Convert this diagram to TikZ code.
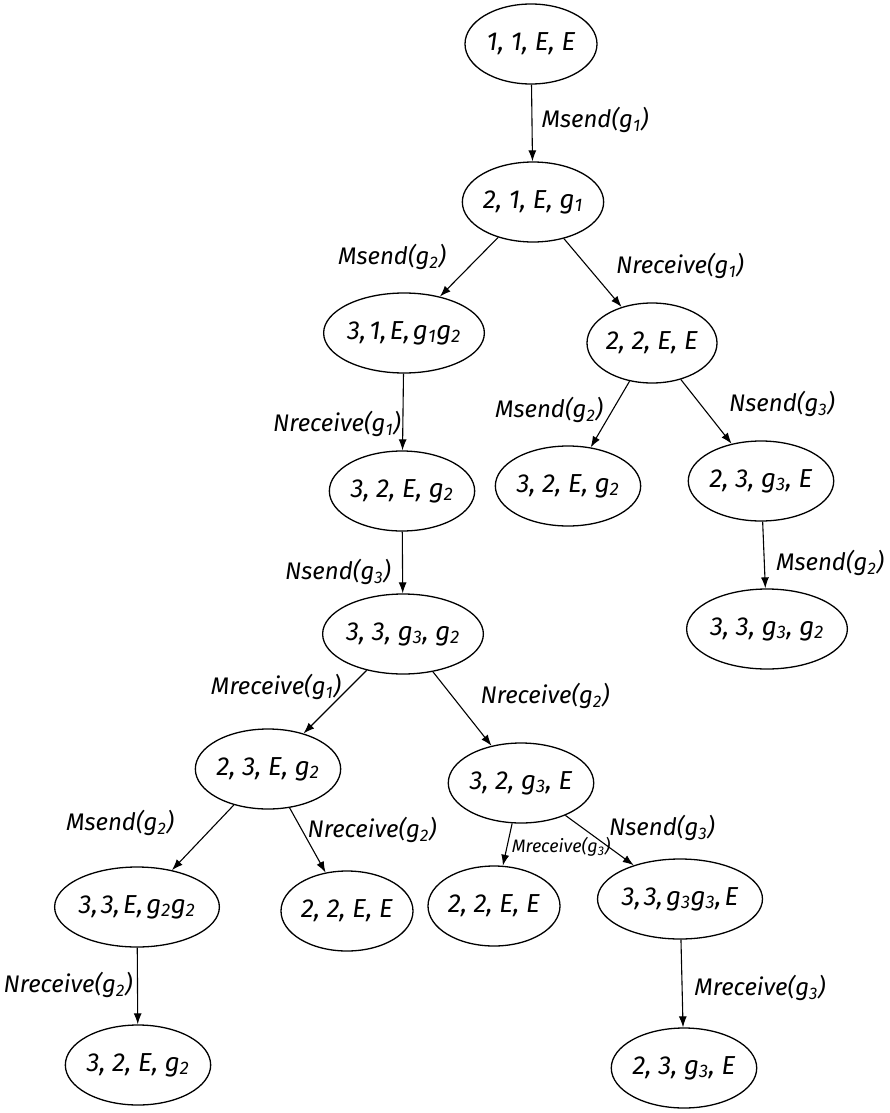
\documentclass[tikz,border=0pt]{standalone}
\usepackage{fontspec}
\setmainfont{Fira Sans}
\usetikzlibrary{shapes.geometric,arrows.meta}
\newcommand{\gsub}[1]{g\textsubscript{#1}}
\newcommand{\tc}{,\hspace{0.12em}}
\begin{document}
\begin{tikzpicture}[x=1pt,y=-1pt,
  state/.style={ellipse,draw,line width=1.3pt,minimum width=132pt,minimum height=80pt,inner sep=0pt,
    font=\fontsize{26}{28}\selectfont\itshape},
  trans/.style={line width=1.1pt,-{Latex[length=11pt,width=8pt]}},
  lbl/.style={inner sep=0pt,font=\fontsize{24}{26}\selectfont\itshape},
  slbl/.style={inner sep=0pt,font=\fontsize{18}{20}\selectfont\itshape}]
\useasboundingbox (0,0) rectangle (889,1113);

% states
\node[state] (n1)  at (531,44)   {1, 1, E, E};
\node[state] (n2)  at (533,202)  {2, 1, E, \gsub{1}};
\node[state] (n3)  at (404,333)  {3\tc 1\tc E\tc \gsub{1}\gsub{2}};
\node[state,minimum width=122pt] (n4) at (652,343) {2, 2, E, E};
\node[state,minimum width=127pt] (n5) at (568,486) {3, 2, E, \gsub{2}};
\node[state] (n6)  at (761,481)  {2, 3, \gsub{3}, E};
\node[state] (n7)  at (767,629)  {3, 3, \gsub{3}, \gsub{2}};
\node[state] (n8)  at (402,491)  {3, 2, E, \gsub{2}};
\node[state] (n9)  at (403,634)  {3, 3, \gsub{3}, \gsub{2}};
\node[state] (n10) at (268,769)  {2, 3, E, \gsub{2}};
\node[state] (n11) at (521,783)  {3, 2, \gsub{3}, E};
\node[state] (n12) at (137,907)  {3\tc 3\tc E\tc \gsub{2}\gsub{2}};
\node[state] (n13) at (347,911)  {2, 2, E, E};
\node[state] (n14) at (494,906)  {2, 2, E, E};
\node[state] (n15) at (680,899)  {3\tc 3\tc \gsub{3}\gsub{3}\tc E};
\node[state] (n16) at (138,1065) {3, 2, E, \gsub{2}};
\node[state] (n17) at (684,1068) {2, 3, \gsub{3}, E};

% transitions
\draw[trans] (n1) -- (n2);
\draw[trans] (n2) -- (n3);
\draw[trans] (n2) -- (n4);
\draw[trans] (n3) -- (n8);
\draw[trans] (n4) -- (n5);
\draw[trans] (n4) -- (n6);
\draw[trans] (n6) -- (n7);
\draw[trans] (n8) -- (n9);
\draw[trans] (n9) -- (n10);
\draw[trans] (n9) -- (n11);
\draw[trans] (n10) -- (n12);
\draw[trans] (n10) -- (n13);
\draw[trans] (n11) -- (n14);
\draw[trans] (n11) -- (n15);
\draw[trans] (n12) -- (n16);
\draw[trans] (n15) -- (n17);

% transition labels
\node[lbl]  (l1)  at (595,120) {Msend(\gsub{1})};
\node[lbl]  (l2)  at (392,257) {Msend(\gsub{2})};
\node[lbl]  (l3)  at (680,266) {Nreceive(\gsub{1})};
\node[lbl]  (l4)  at (337,424) {Nreceive(\gsub{1})};
\node[lbl]  (l5)  at (549,410) {Msend(\gsub{2})};
\node[lbl]  (l6)  at (782,404) {Nsend(\gsub{3})};
\node[lbl]  (l7)  at (830,563) {Msend(\gsub{2})};
\node[lbl]  (l8)  at (338,572) {Nsend(\gsub{3})};
\node[lbl]  (l9)  at (276,687) {Mreceive(\gsub{1})};
\node[lbl]  (l10) at (545,696) {Nreceive(\gsub{2})};
\node[lbl]  (l11) at (120,823) {Msend(\gsub{2})};
\node[lbl]  (l12) at (372,830) {Nreceive(\gsub{2})};
\node[slbl] (l13) at (561,847) {Mreceive(\gsub{3})};
\node[lbl]  (l14) at (662,828) {Nsend(\gsub{3})};
\node[lbl]  (l15) at (68,985)  {Nreceive(\gsub{2})};
\node[lbl]  (l16) at (760,988) {Mreceive(\gsub{3})};
\end{tikzpicture}
\end{document}
